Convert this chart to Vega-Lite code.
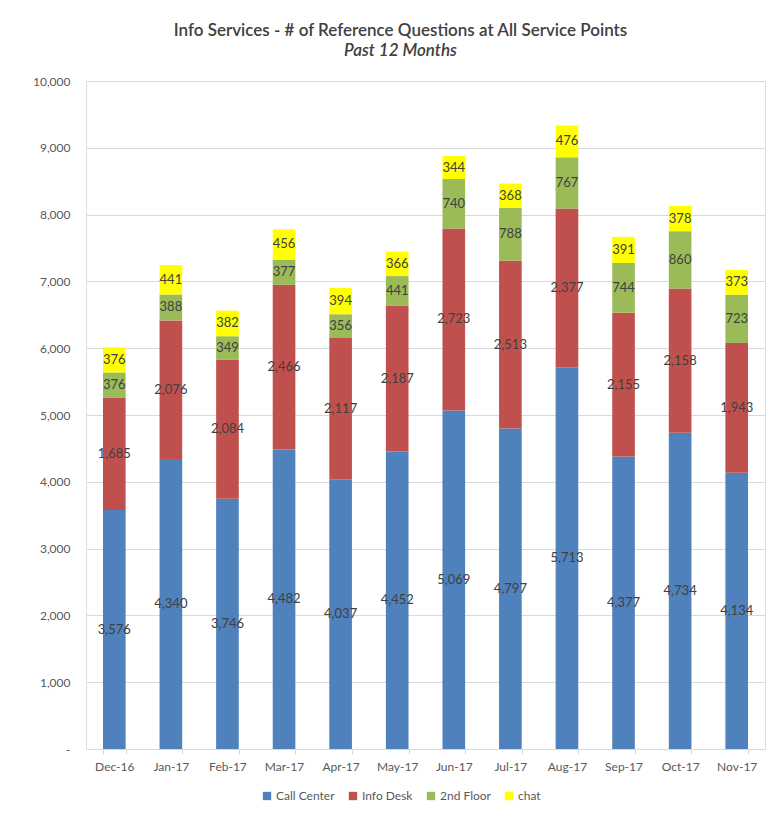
{
  "$schema": "https://vega.github.io/schema/vega-lite/v6.json",
  "width": 679,
  "height": 668,
  "autosize": {"type": "none"},
  "padding": {"left": 86, "top": 81, "right": 7, "bottom": 68},
  "background": "white",
  "title": {
    "text": "Info Services - # of  Reference Questions at All Service Points",
    "subtitle": "Past 12 Months",
    "anchor": "middle",
    "dx": -25,
    "offset": 15,
    "font": "Lato",
    "fontSize": 17,
    "fontWeight": 600,
    "color": "#404040",
    "subtitleFont": "Lato",
    "subtitleFontSize": 17,
    "subtitleFontWeight": 600,
    "subtitleFontStyle": "italic",
    "subtitleColor": "#404040",
    "subtitlePadding": 3
  },
  "data": {
    "values": [
      {"month": "Dec-16", "series": "Call Center", "value": 3576},
      {"month": "Dec-16", "series": "Info Desk", "value": 1685},
      {"month": "Dec-16", "series": "2nd Floor", "value": 376},
      {"month": "Dec-16", "series": "chat", "value": 376},
      {"month": "Jan-17", "series": "Call Center", "value": 4340},
      {"month": "Jan-17", "series": "Info Desk", "value": 2076},
      {"month": "Jan-17", "series": "2nd Floor", "value": 388},
      {"month": "Jan-17", "series": "chat", "value": 441},
      {"month": "Feb-17", "series": "Call Center", "value": 3746},
      {"month": "Feb-17", "series": "Info Desk", "value": 2084},
      {"month": "Feb-17", "series": "2nd Floor", "value": 349},
      {"month": "Feb-17", "series": "chat", "value": 382},
      {"month": "Mar-17", "series": "Call Center", "value": 4482},
      {"month": "Mar-17", "series": "Info Desk", "value": 2466},
      {"month": "Mar-17", "series": "2nd Floor", "value": 377},
      {"month": "Mar-17", "series": "chat", "value": 456},
      {"month": "Apr-17", "series": "Call Center", "value": 4037},
      {"month": "Apr-17", "series": "Info Desk", "value": 2117},
      {"month": "Apr-17", "series": "2nd Floor", "value": 356},
      {"month": "Apr-17", "series": "chat", "value": 394},
      {"month": "May-17", "series": "Call Center", "value": 4452},
      {"month": "May-17", "series": "Info Desk", "value": 2187},
      {"month": "May-17", "series": "2nd Floor", "value": 441},
      {"month": "May-17", "series": "chat", "value": 366},
      {"month": "Jun-17", "series": "Call Center", "value": 5069},
      {"month": "Jun-17", "series": "Info Desk", "value": 2723},
      {"month": "Jun-17", "series": "2nd Floor", "value": 740},
      {"month": "Jun-17", "series": "chat", "value": 344},
      {"month": "Jul-17", "series": "Call Center", "value": 4797},
      {"month": "Jul-17", "series": "Info Desk", "value": 2513},
      {"month": "Jul-17", "series": "2nd Floor", "value": 788},
      {"month": "Jul-17", "series": "chat", "value": 368},
      {"month": "Aug-17", "series": "Call Center", "value": 5713},
      {"month": "Aug-17", "series": "Info Desk", "value": 2377},
      {"month": "Aug-17", "series": "2nd Floor", "value": 767},
      {"month": "Aug-17", "series": "chat", "value": 476},
      {"month": "Sep-17", "series": "Call Center", "value": 4377},
      {"month": "Sep-17", "series": "Info Desk", "value": 2155},
      {"month": "Sep-17", "series": "2nd Floor", "value": 744},
      {"month": "Sep-17", "series": "chat", "value": 391},
      {"month": "Oct-17", "series": "Call Center", "value": 4734},
      {"month": "Oct-17", "series": "Info Desk", "value": 2158},
      {"month": "Oct-17", "series": "2nd Floor", "value": 860},
      {"month": "Oct-17", "series": "chat", "value": 378},
      {"month": "Nov-17", "series": "Call Center", "value": 4134},
      {"month": "Nov-17", "series": "Info Desk", "value": 1943},
      {"month": "Nov-17", "series": "2nd Floor", "value": 723},
      {"month": "Nov-17", "series": "chat", "value": 373}
    ]
  },
  "transform": [
    {"calculate": "indexof(['Call Center','Info Desk','2nd Floor','chat'], datum.series)", "as": "k"},
    {"stack": "value", "groupby": ["month"], "sort": [{"field": "k", "order": "ascending"}], "as": ["v0", "v1"]},
    {"calculate": "(datum.v0 + datum.v1) / 2", "as": "mid"}
  ],
  "encoding": {
    "x": {
      "field": "month",
      "type": "nominal",
      "sort": null,
      "scale": {"paddingInner": 0.6, "paddingOuter": 0.3},
      "axis": {
        "title": null,
        "labelAngle": 0,
        "tickBand": "extent",
        "tickSize": 5,
        "tickColor": "#D9D9D9",
        "domainColor": "#D9D9D9",
        "labelColor": "#595959",
        "labelFont": "Lato",
        "labelFontSize": 12,
        "labelPadding": 7
      }
    }
  },
  "layer": [
    {
      "mark": {"type": "bar"},
      "encoding": {
        "y": {
          "field": "v0",
          "type": "quantitative",
          "scale": {"domain": [0, 10000], "nice": false},
          "axis": {
            "title": null,
            "values": [0, 1000, 2000, 3000, 4000, 5000, 6000, 7000, 8000, 9000, 10000],
            "labelExpr": "datum.value == 0 ? '-' : format(datum.value, ',')",
            "ticks": false,
            "tickSize": 0,
            "domain": false,
            "gridColor": "#D9D9D9",
            "labelColor": "#595959",
            "labelFont": "Lato",
            "labelFontSize": 12,
            "labelPadding": 16
          }
        },
        "y2": {"field": "v1"},
        "color": {
          "field": "series",
          "type": "nominal",
          "scale": {
            "domain": ["Call Center", "Info Desk", "2nd Floor", "chat"],
            "range": ["#4F81BD", "#C0504D", "#9BBB59", "#FFFF00"]
          },
          "legend": {
            "title": null,
            "orient": "none",
            "direction": "horizontal",
            "legendX": 175,
            "legendY": 709,
            "symbolType": "square",
            "symbolSize": 70,
            "symbolStrokeWidth": 0,
            "labelColor": "#595959",
            "labelFont": "Lato",
            "labelFontSize": 12,
            "columnPadding": 12,
            "labelOffset": 3
          }
        }
      }
    },
    {
      "mark": {"type": "text", "font": "Lato", "fontSize": 13, "color": "#404040"},
      "encoding": {
        "y": {"field": "mid", "type": "quantitative"},
        "text": {"field": "value", "type": "quantitative", "format": ","}
      }
    }
  ]
}
